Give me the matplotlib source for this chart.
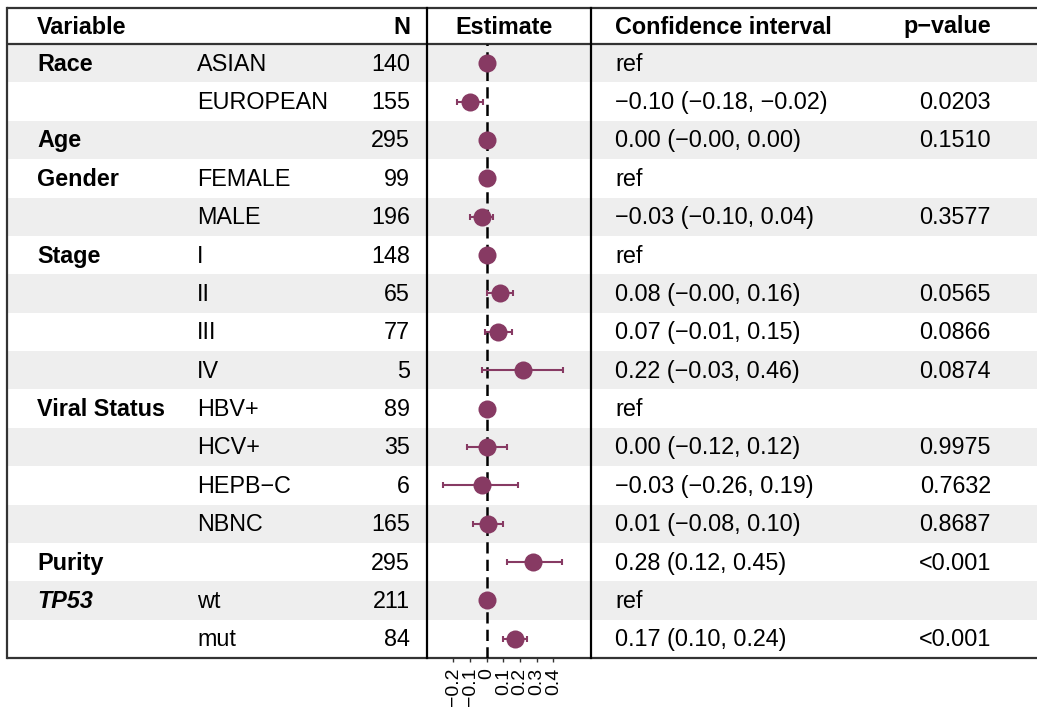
import matplotlib
matplotlib.use("Agg")
import matplotlib.pyplot as plt
from matplotlib.patches import Rectangle

plt.rcParams['font.family'] = ['Liberation Sans', 'DejaVu Sans']

variables = ["Race", "", "Age", "Gender", "", "Stage", "", "", "",
             "Viral Status", "", "", "", "Purity", "TP53", ""]
levels = ["ASIAN", "EUROPEAN", "", "FEMALE", "MALE", "I", "II", "III", "IV",
          "HBV+", "HCV+", "HEPB\u2212C", "NBNC", "", "wt", "mut"]
n_obs = [140, 155, 295, 99, 196, 148, 65, 77, 5, 89, 35, 6, 165, 295, 211, 84]
estimate = [0.0, -0.10, 0.00, 0.0, -0.03, 0.0, 0.08, 0.07, 0.22,
            0.0, 0.00, -0.03, 0.01, 0.28, 0.0, 0.17]
ci_low = [None, -0.18, -0.00, None, -0.10, None, -0.00, -0.01, -0.03,
          None, -0.12, -0.26, -0.08, 0.12, None, 0.10]
ci_high = [None, -0.02, 0.00, None, 0.04, None, 0.16, 0.15, 0.46,
           None, 0.12, 0.19, 0.10, 0.45, None, 0.24]
p_values = ["", "0.0203", "0.1510", "", "0.3577", "", "0.0565", "0.0866", "0.0874",
            "", "0.9975", "0.7632", "0.8687", "<0.001", "", "<0.001"]
x_ticks = [-0.2, -0.1, 0.0, 0.1, 0.2, 0.3, 0.4]
x_tick_labels = ["\u22120.2", "\u22120.1", "0", "0.1", "0.2", "0.3", "0.4"]

W, H = 1037, 708
fig = plt.figure(figsize=(W / 100, H / 100), dpi=100)
ax = fig.add_axes([0, 0, 1, 1])
ax.set_xlim(0, W)
ax.set_ylim(H, 0)
ax.axis("off")

top, head, bottom = 8, 44, 658
left, right = 7, 1037
est_l, est_r = 427, 591
row_h = (bottom - head) / len(levels)
fs = 16.8
ink = "#333333"
point_col = "#873A63"


def fmt(v):
    s = f"{v:.2f}"
    if v < 0 or s == "-0.00":
        s = "\u2212" + s.lstrip("-")
    return s


# shaded stripes
for i in range(len(levels)):
    if i % 2 == 0:
        ax.add_patch(Rectangle((left, head + i * row_h), right - left, row_h,
                               facecolor="#EEEEEE", edgecolor="none", zorder=0))

# header
hy = (top + head) / 2 + 1
ax.text(37, hy, "Variable", fontsize=fs, fontweight="bold", va="center", ha="left")
ax.text(410, hy, "N", fontsize=fs, fontweight="bold", va="center", ha="right")
ax.text(504, hy, "Estimate", fontsize=fs, fontweight="bold", va="center", ha="center")
ax.text(615, hy, "Confidence interval", fontsize=fs, fontweight="bold", va="center", ha="left")
ax.text(991, hy, "p\u2212value", fontsize=fs, fontweight="bold", va="center", ha="right")

# table body
for i in range(len(levels)):
    y = head + (i + 0.5) * row_h + 1
    style = "italic" if variables[i] == "TP53" else "normal"
    ax.text(37, y, variables[i], fontsize=fs, fontweight="bold", fontstyle=style,
            va="center", ha="left")
    ax.text(197, y, levels[i], fontsize=fs, va="center", ha="left")
    ax.text(410, y, str(n_obs[i]), fontsize=fs, va="center", ha="right")
    if ci_low[i] is None:
        ci_txt = "ref"
    else:
        ci_txt = f"{fmt(estimate[i])} ({fmt(ci_low[i])}, {fmt(ci_high[i])})"
    ax.text(615, y, ci_txt, fontsize=fs, va="center", ha="left")
    ax.text(991, y, p_values[i], fontsize=fs, va="center", ha="right")

# borders
lw = 1.6
ax.plot([left, right], [top, top], color=ink, lw=lw, solid_capstyle="butt")
ax.plot([left, right], [head, head], color=ink, lw=lw, solid_capstyle="butt")
ax.plot([left, right], [bottom, bottom], color=ink, lw=lw, solid_capstyle="butt")
ax.plot([left, left], [top, bottom], color=ink, lw=lw, solid_capstyle="projecting")
for xv in (est_l, est_r):
    ax.plot([xv, xv], [top, bottom], color="black", lw=lw)

# forest panel
fax = fig.add_axes([est_l / W, (H - bottom) / H, (est_r - est_l) / W, (bottom - head) / H])
fax.set_facecolor("none")
fax.set_xlim(-0.358, 0.626)
fax.set_ylim(len(levels), 0)
for s in fax.spines.values():
    s.set_visible(False)
fax.axvline(0, color="black", lw=1.8, ls=(0, (4.5, 2.5)), zorder=1)
for i in range(len(levels)):
    y = i + 0.5
    if ci_low[i] is not None:
        fax.errorbar(estimate[i], y, xerr=[[estimate[i] - ci_low[i]], [ci_high[i] - estimate[i]]],
                     fmt="none", ecolor=point_col, elinewidth=1.5, capsize=2.5, capthick=1.5, zorder=2)
    fax.plot(estimate[i], y, "o", color=point_col, markersize=13, markeredgewidth=0, zorder=3)
fax.set_xticks(x_ticks)
fax.set_xticklabels(x_tick_labels, rotation=90, fontsize=14, va="top", ha="center")
fax.tick_params(axis="x", length=3, width=1, color=ink, pad=4)
fax.set_yticks([])

fig.savefig("out.png", dpi=100)
